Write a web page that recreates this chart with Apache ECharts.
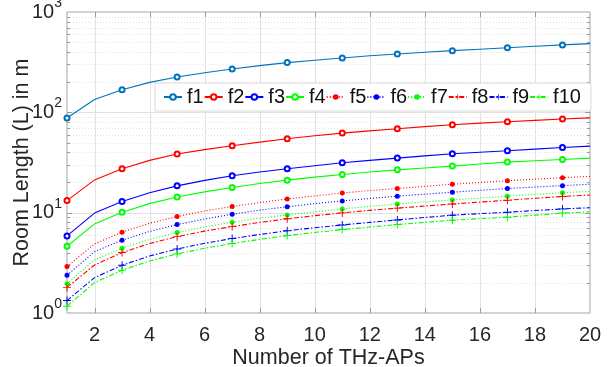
<!DOCTYPE html>
<html>
<head>
<meta charset="utf-8">
<script src="https://cdn.jsdelivr.net/npm/echarts@6/dist/echarts.min.js"></script>
<style>html,body{margin:0;padding:0;background:#fff;}#c{width:608px;height:367px;}</style>
</head>
<body>
<div id="c"></div>
<script>
// ---- data ----
const apCounts = [1,2,3,4,5,6,7,8,9,10,11,12,13,14,15,16,17,18,19,20];
const seriesNames = ['f1','f2','f3','f4','f5','f6','f7','f8','f9','f10'];
const f1  = [87.7,134,168,199,225,248,270,292,313,331,348,366,382,397,412,426,441,456,470,484];
const f2  = [13.2,21.2,27.4,33.2,38.4,42.5,46.4,50.5,54.5,58.4,62.1,65.4,68.6,72.0,75.2,78.0,80.5,83.2,85.7,88.0];
const f3  = [5.87,9.9,12.9,15.8,18.5,21.0,23.3,25.4,27.4,29.4,31.4,33.2,35.0,36.8,38.6,40.0,41.4,43.0,44.6,46.0];
const f4  = [4.63,7.73,10.1,12.3,14.3,16.1,17.8,19.5,21.1,22.6,24.0,25.4,26.7,27.9,29.1,30.5,31.9,32.9,33.9,35.0];
const f5  = [2.90,4.88,6.39,7.85,9.14,10.4,11.5,12.6,13.7,14.7,15.7,16.6,17.4,18.3,19.2,20.0,20.8,21.6,22.3,23.0];
const f6  = [2.38,4.09,5.32,6.5,7.61,8.65,9.66,10.6,11.45,12.3,13.1,13.85,14.6,15.3,16.0,16.7,17.4,18.0,18.6,19.2];
const f7  = [1.96,3.38,4.42,5.42,6.33,7.2,8.04,8.8,9.5,10.2,10.9,11.55,12.2,12.8,13.4,14.0,14.6,15.2,15.8,16.3];
const f8  = [1.80,3.01,4.0,4.92,5.77,6.55,7.26,8.0,8.68,9.33,9.95,10.55,11.1,11.65,12.2,12.75,13.3,13.9,14.5,15.0];
const f9  = [1.33,2.25,2.99,3.7,4.35,4.95,5.52,6.06,6.6,7.08,7.55,8.0,8.47,8.95,9.44,9.78,10.1,10.5,10.9,11.2];
const f10 = [1.17,2.01,2.67,3.3,3.88,4.42,4.92,5.42,5.91,6.35,6.78,7.2,7.61,8.0,8.42,8.72,9.02,9.45,9.9,10.2];
const xTickLabels = [2,4,6,8,10,12,14,16,18,20];
const xGridValues = [2,4,6,8,10,12,14,16,18];
const yMajorValues = [10,100];
const yMinorValues = [2,3,4,5,6,7,8,9,20,30,40,50,60,70,80,90,200,300,400,500,600,700,800,900];

// ---- styles ----
const FONT = 'Liberation Sans, Arial, Helvetica, sans-serif';
const plusPath = 'path://M4.4,0h1.2v4.4h4.4v1.2h-4.4v4.4h-1.2v-4.4h-4.4v-1.2h4.4z';
const styles = [
  {color:'#0072BD', line:'solid', symbol:'emptyCircle', size:5},
  {color:'#FF0000', line:'solid', symbol:'emptyCircle', size:5},
  {color:'#0000FF', line:'solid', symbol:'emptyCircle', size:5},
  {color:'#00FF00', line:'solid', symbol:'emptyCircle', size:5},
  {color:'#FF0000', line:[1,2], symbol:'circle', size:5},
  {color:'#0000FF', line:[1,2], symbol:'circle', size:5},
  {color:'#00FF00', line:[1,2], symbol:'circle', size:5},
  {color:'#FF0000', line:[5,2,1.5,2], symbol:plusPath, size:8},
  {color:'#0000FF', line:[5,2,1.5,2], symbol:plusPath, size:8},
  {color:'#00FF00', line:[5,2,1.5,2], symbol:plusPath, size:8}
];
const allValues = [f1,f2,f3,f4,f5,f6,f7,f8,f9,f10];

const lineSeries = seriesNames.map((name, k) => {
  const st = styles[k];
  return {
    name: name,
    type: 'line',
    z: 3,
    symbol: st.symbol,
    symbolSize: st.size,
    showSymbol: true,
    showAllSymbol: true,
    silent: true,
    lineStyle: {color: st.color, width: 1.1, type: st.line},
    itemStyle: {color: st.color, borderColor: st.color, borderWidth: st.symbol === 'emptyCircle' ? 1 : 0},
    data: apCounts.map((x, i) => {
      const item = {value: [x, allValues[k][i]]};
      if (x % 2 === 0) item.symbol = 'none';
      return item;
    })
  };
});

// grid lines + ticks drawn through the axes' scales
const gridData = [];
xGridValues.forEach(v => gridData.push([v, 1, 0]));
yMajorValues.forEach(v => gridData.push([1, v, 1]));
yMinorValues.forEach(v => gridData.push([1, v, 2]));

const gridSeries = {
  type: 'custom',
  z: 1,
  silent: true,
  data: gridData,
  renderItem: function (params, api) {
    const cs = params.coordSys;
    const kind = api.value(2);
    const children = [];
    const gridColor = '#e2e2e2';
    const tickColor = '#9a9a9a';
    if (kind === 0) {
      const p = api.coord([api.value(0), 1]);
      const x = Math.round(p[0]) + 0.5;
      children.push({type:'line', shape:{x1:x,y1:cs.y,x2:x,y2:cs.y+cs.height}, style:{stroke:gridColor, lineWidth:1}});
      children.push({type:'line', shape:{x1:x,y1:cs.y+cs.height-5,x2:x,y2:cs.y+cs.height}, style:{stroke:tickColor, lineWidth:1}});
      children.push({type:'line', shape:{x1:x,y1:cs.y,x2:x,y2:cs.y+5}, style:{stroke:tickColor, lineWidth:1}});
    } else {
      const p = api.coord([1, api.value(1)]);
      const y = Math.round(p[1]) + 0.5;
      const major = kind === 1;
      children.push({type:'line', shape:{x1:cs.x,y1:y,x2:cs.x+cs.width,y2:y},
        style:{stroke: major ? gridColor : '#e6e6e6', lineWidth:1, lineDash: major ? null : [1,2]}});
      const tl = major ? 5 : 3;
      children.push({type:'line', shape:{x1:cs.x,y1:y,x2:cs.x+tl,y2:y}, style:{stroke:tickColor, lineWidth:1}});
      children.push({type:'line', shape:{x1:cs.x+cs.width-tl,y1:y,x2:cs.x+cs.width,y2:y}, style:{stroke:tickColor, lineWidth:1}});
    }
    return {type:'group', children: children};
  }
};

const chart = echarts.init(document.getElementById('c'), null, {renderer:'canvas'});
chart.setOption({
  animation: false,
  backgroundColor: '#fff',
  textStyle: {fontFamily: FONT},
  grid: {left: 67, right: 18, top: 12, bottom: 54, containLabel: false, outerBoundsMode: 'none',
         show: true, borderColor: '#a6a6a6', borderWidth: 1, backgroundColor: 'transparent'},
  legend: {
    data: seriesNames,
    left: 155, top: 83,
    orient: 'horizontal',
    backgroundColor: '#fff',
    borderColor: '#d0d0d0',
    borderWidth: 0.8,
    padding: [4, 10, 4, 8],
    itemWidth: 18, itemHeight: 7, itemGap: 0,
    textStyle: {fontFamily: FONT, fontSize: 20, color: '#111'}
  },
  xAxis: {
    type: 'value', min: 1, max: 20, interval: 1,
    name: 'Number of THz-APs', nameLocation: 'middle', nameGap: 34, nameMoveOverlap: false,
    nameTextStyle: {fontFamily: FONT, fontSize: 21.5, color: '#262626'},
    axisLine: {show: false}, axisTick: {show: false}, splitLine: {show: false},
    axisLabel: {
      fontFamily: FONT, fontSize: 20, color: '#262626', margin: 12,
      formatter: v => (xTickLabels.indexOf(v) >= 0 ? String(v) : '')
    }
  },
  yAxis: {
    type: 'log', logBase: 10, min: 1, max: 1000,
    name: 'Room Length (L) in m', nameLocation: 'middle', nameGap: 34, nameRotate: 90, nameMoveOverlap: false,
    nameTextStyle: {fontFamily: FONT, fontSize: 21.5, color: '#262626'},
    axisLine: {show: false}, axisTick: {show: false}, splitLine: {show: false}, minorTick: {show: false},
    axisLabel: {
      margin: 5, color: '#262626',
      formatter: v => '{b|10}{s|' + Math.round(Math.log10(v)) + '}',
      rich: {
        b: {fontFamily: FONT, fontSize: 20, lineHeight: 20, color: '#262626', verticalAlign: 'bottom'},
        s: {fontFamily: FONT, fontSize: 14, lineHeight: 14, color: '#262626', verticalAlign: 'bottom', padding: [0, 0, 12, 0]}
      }
    }
  },
  series: [gridSeries].concat(lineSeries)
});
</script>
</body>
</html>
